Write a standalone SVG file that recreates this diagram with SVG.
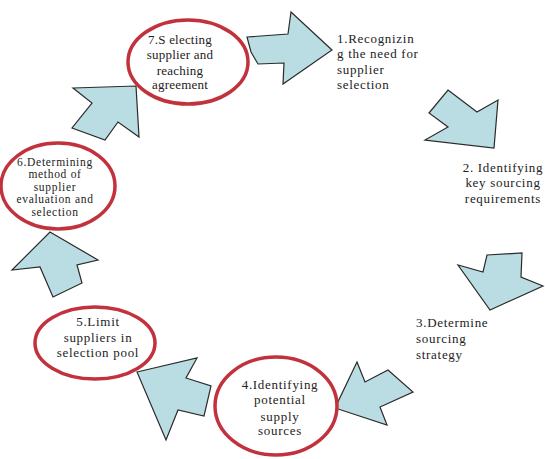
<svg xmlns="http://www.w3.org/2000/svg" width="545" height="459" viewBox="0 0 545 459">
<style>
.arr{fill:#b9dde3;stroke:#2a2a2a;stroke-width:1.2;stroke-linejoin:miter}
.ell{fill:#ffffff;stroke:#c1323d;stroke-width:3.5}
.t{font-family:'Liberation Serif','DejaVu Serif','Times New Roman',serif;font-size:13px;fill:#222;letter-spacing:0.7px}
.c{text-anchor:middle}
.s{font-size:11.5px}
#n7{letter-spacing:0.2px}
</style>
<rect width="545" height="459" fill="#ffffff"/>
<g id="connectors">
<polygon class="arr" points="247,37 288,34 291,12 332,50 283,84 284,63 258,64 251,52"/>
<polygon class="arr" points="448,90 477,112 498,100 494,148 425,140 448,127 429,113"/>
<polygon class="arr" points="487,255 522,253 521,277 543,286 490,310 458,265 483,272"/>
<polygon class="arr" points="357,362 365,382 388,370 413,392 380,407 387,425 335,408"/>
<polygon class="arr" points="137,372 197,358 186,378 211,386 204,416 178,410 166,440"/>
<polygon class="arr" points="50,232 98,260 77,265 82,283 53,297 40,267 12,270"/>
<polygon class="arr" points="73,88 136,86 139,137 118,122 105,140 72,128 92,103"/>
</g>
<g id="n7" class="t">
<ellipse class="ell" cx="188" cy="62" rx="60" ry="42"/>
<text class="c" x="180" y="44">7.S electing</text>
<text class="c" x="180" y="59">supplier and</text>
<text class="c" x="180" y="75">reaching</text>
<text class="c" x="180" y="89">agreement</text>
</g>
<g id="n1" class="t">
<text x="337" y="43">1.Recognizin</text>
<text x="337" y="58">g the need for</text>
<text x="337" y="74">supplier</text>
<text x="337" y="89">selection</text>
</g>
<g id="n2" class="t">
<text class="c" x="503" y="172">2. Identifying</text>
<text class="c" x="503" y="187">key sourcing</text>
<text class="c" x="503" y="203">requirements</text>
</g>
<g id="n3" class="t">
<text x="416" y="327">3.Determine</text>
<text x="416" y="343">sourcing</text>
<text x="416" y="359">strategy</text>
</g>
<g id="n4" class="t">
<ellipse class="ell" cx="276" cy="406" rx="61" ry="49"/>
<text class="c" x="280" y="389">4.Identifying</text>
<text class="c" x="280" y="404">potential</text>
<text class="c" x="280" y="421">supply</text>
<text class="c" x="280" y="435">sources</text>
</g>
<g id="n5" class="t">
<ellipse class="ell" cx="95" cy="343" rx="60" ry="36"/>
<text class="c" x="98" y="326">5.Limit</text>
<text class="c" x="98" y="342">suppliers in</text>
<text class="c" x="98" y="357">selection pool</text>
</g>
<g id="n6" class="t">
<ellipse class="ell" cx="58" cy="186" rx="57" ry="43"/>
<text class="c s" x="55" y="166">6.Determining</text>
<text class="c s" x="55" y="178">method of</text>
<text class="c s" x="55" y="191">supplier</text>
<text class="c s" x="55" y="203">evaluation and</text>
<text class="c s" x="55" y="216">selection</text>
</g>
</svg>
